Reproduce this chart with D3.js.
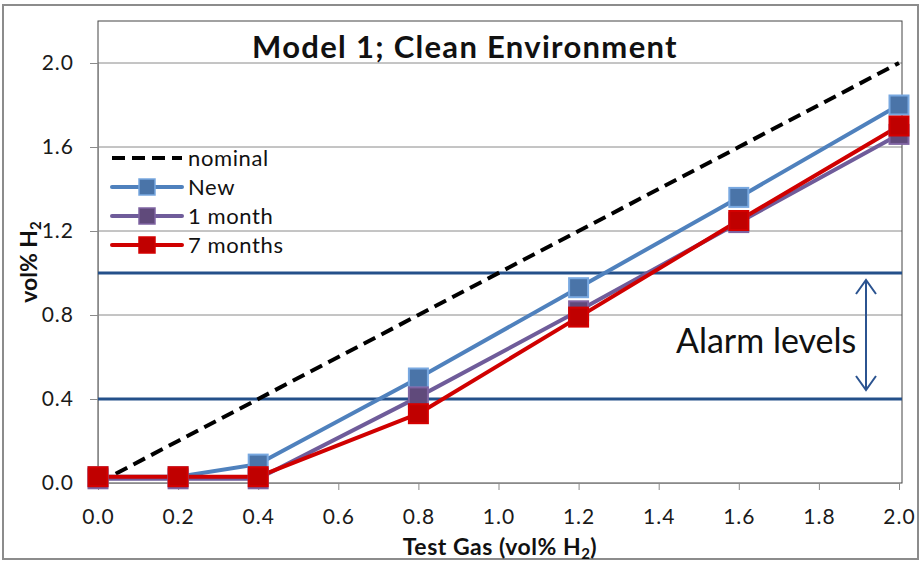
<!DOCTYPE html>
<html>
<head>
<meta charset="utf-8">
<script src="https://cdn.jsdelivr.net/npm/d3@7"></script>
<style>
  html, body { margin: 0; padding: 0; background: #fff; }
  svg { display: block; font-family: Lato, "Open Sans", sans-serif; }
</style>
</head>
<body>
<svg id="chart" width="921" height="562"></svg>
<script>
// ---- data ----
const testGas = [0.0, 0.2, 0.4, 0.8, 1.2, 1.6, 2.0];
const nominal = [0.0, 0.2, 0.4, 0.8, 1.2, 1.6, 2.0];
const newSensor = [0.03, 0.03, 0.09, 0.50, 0.93, 1.36, 1.80];
const oneMonth = [0.02, 0.02, 0.02, 0.41, 0.82, 1.24, 1.66];
const sevenMonths = [0.03, 0.03, 0.03, 0.33, 0.79, 1.25, 1.70];
const alarmLevels = [0.4, 1.0];
const xTicks = [0.0, 0.2, 0.4, 0.6, 0.8, 1.0, 1.2, 1.4, 1.6, 1.8, 2.0];
const yTicks = [0.0, 0.4, 0.8, 1.2, 1.6, 2.0];
const seriesNames = ["nominal", "New", "1 month", "7 months"];

const svg = d3.select("#chart");
const plot = { left: 98, top: 21, right: 902, bottom: 483 };

const x = d3.scaleLinear().domain([0, 2.0]).range([98, 899]);
const y = d3.scaleLinear().domain([0, 2.0]).range([483, 63]);

// outer chart border
svg.append("rect").attr("x", 3).attr("y", 5).attr("width", 915).attr("height", 554)
  .attr("fill", "#fff").attr("stroke", "#8c8c8c").attr("stroke-width", 2);

// gridlines
svg.append("g").selectAll("line").data(yTicks.filter(d => d > 0)).join("line")
  .attr("x1", plot.left).attr("x2", plot.right)
  .attr("y1", d => y(d)).attr("y2", d => y(d))
  .attr("stroke", "#8a8a8a").attr("stroke-width", 1);

// plot frame
svg.append("rect").attr("x", plot.left).attr("y", plot.top)
  .attr("width", plot.right - plot.left).attr("height", plot.bottom - plot.top)
  .attr("fill", "none").attr("stroke", "#444").attr("stroke-width", 1);

// axes
const xAxis = d3.axisBottom(x).tickValues(xTicks).tickFormat(d3.format(".1f")).tickSize(7).tickPadding(19);
const gx = svg.append("g").attr("transform", `translate(0,${plot.bottom})`).call(xAxis);
const yAxis = d3.axisLeft(y).tickValues(yTicks).tickFormat(d3.format(".1f")).tickSize(8).tickPadding(16);
const gy = svg.append("g").attr("transform", `translate(${plot.left},0)`).call(yAxis);
[gx, gy].forEach(g => {
  g.select(".domain").attr("stroke", "#8a8a8a");
  g.selectAll(".tick line").attr("stroke", "#8a8a8a");
  g.selectAll(".tick text").attr("fill", "#1a1a1a").style("font-size", "21px")
    .style("letter-spacing", "1px")
    .style("font-family", "Lato, 'Open Sans', sans-serif");
});

// alarm lines
svg.append("g").selectAll("line").data(alarmLevels).join("line")
  .attr("x1", plot.left).attr("x2", plot.right)
  .attr("y1", d => y(d)).attr("y2", d => y(d))
  .attr("stroke", "#24508a").attr("stroke-width", 3);

// series
const line = d3.line().x(d => x(d[0])).y(d => y(d[1]));
const zip = vals => testGas.map((g, i) => [g, vals[i]]);

svg.append("path").datum(testGas.map((g, i) => [g, nominal[i]])).attr("d", line)
  .attr("fill", "none").attr("stroke", "#000").attr("stroke-width", 4)
  .attr("stroke-dasharray", "13,7");

const series = [
  { name: "New", vals: newSensor, line: "#4f81bd", fill: "#4a74a8", stroke: "#78a8e0" },
  { name: "1 month", vals: oneMonth, line: "#6f5c9a", fill: "#604a7b", stroke: "#7f64a2" },
  { name: "7 months", vals: sevenMonths, line: "#d00000", fill: "#c00000", stroke: "#d40000" }
];
const ms = 19;
series.forEach(s => {
  svg.append("path").datum(zip(s.vals)).attr("d", line)
    .attr("fill", "none").attr("stroke", s.line).attr("stroke-width", 4)
    .attr("stroke-linejoin", "round");
});
series.forEach(s => {
  svg.append("g").selectAll("rect").data(zip(s.vals)).join("rect")
    .attr("x", d => x(d[0]) - ms / 2).attr("y", d => y(d[1]) - ms / 2)
    .attr("width", ms).attr("height", ms)
    .attr("fill", s.fill).attr("stroke", s.stroke).attr("stroke-width", 2);
});

// legend
const legendRows = [
  { name: seriesNames[0], color: "#000", dash: "13,7", marker: null },
  { name: seriesNames[1], color: series[0].line, marker: series[0] },
  { name: seriesNames[2], color: series[1].line, marker: series[1] },
  { name: seriesNames[3], color: series[2].line, marker: series[2] }
];
const lg = svg.append("g");
legendRows.forEach((r, i) => {
  const yy = 158 + i * 29;
  lg.append("line").attr("x1", 112).attr("x2", 182).attr("y1", yy).attr("y2", yy)
    .attr("stroke", r.color).attr("stroke-width", 4)
    .attr("stroke-dasharray", r.dash || null).attr("stroke-linecap", r.dash ? "butt" : "round");
  if (r.marker) {
    lg.append("rect").attr("x", 147 - 8).attr("y", yy - 8).attr("width", 16).attr("height", 16)
      .attr("fill", r.marker.fill).attr("stroke", r.marker.stroke).attr("stroke-width", 1.5);
  }
  lg.append("text").attr("x", 188).attr("y", yy + 8).text(r.name)
    .attr("fill", "#111").style("font-size", "22px").style("letter-spacing", "0.6px");
});

// title
svg.append("text").attr("x", 465).attr("y", 58).attr("text-anchor", "middle")
  .style("font-size", "31px").style("font-weight", "bold").style("letter-spacing", "1.3px")
  .attr("fill", "#111")
  .text("Model 1; Clean Environment");

// axis titles
const xt = svg.append("text").attr("x", 500).attr("y", 555).attr("text-anchor", "middle")
  .style("font-size", "23px").style("font-weight", "bold").style("letter-spacing", "0.5px")
  .attr("fill", "#111");
xt.append("tspan").text("Test Gas (vol% H");
xt.append("tspan").text("2").style("font-size", "15px").attr("dy", 4);
xt.append("tspan").text(")").attr("dy", -4);

const yt = svg.append("text").attr("transform", "translate(37,262) rotate(-90)")
  .attr("text-anchor", "middle")
  .style("font-size", "23px").style("font-weight", "bold").attr("fill", "#111");
yt.append("tspan").text("vol% H");
yt.append("tspan").text("2").style("font-size", "15px").attr("dy", 4);

// alarm annotation
svg.append("text").attr("x", 676).attr("y", 353).text("Alarm levels")
  .style("font-size", "34px").attr("fill", "#111");
const ax = 866, ay1 = y(1.0) + 7, ay2 = y(0.4) - 9;
const arr = svg.append("g").attr("stroke", "#2b5390").attr("stroke-width", 2).attr("fill", "none");
arr.append("line").attr("x1", ax).attr("x2", ax).attr("y1", ay1).attr("y2", ay2);
arr.append("path").attr("d", `M${ax - 10},${ay1 + 14}L${ax},${ay1}L${ax + 10},${ay1 + 14}`);
arr.append("path").attr("d", `M${ax - 10},${ay2 - 14}L${ax},${ay2}L${ax + 10},${ay2 - 14}`);
</script>
</body>
</html>
